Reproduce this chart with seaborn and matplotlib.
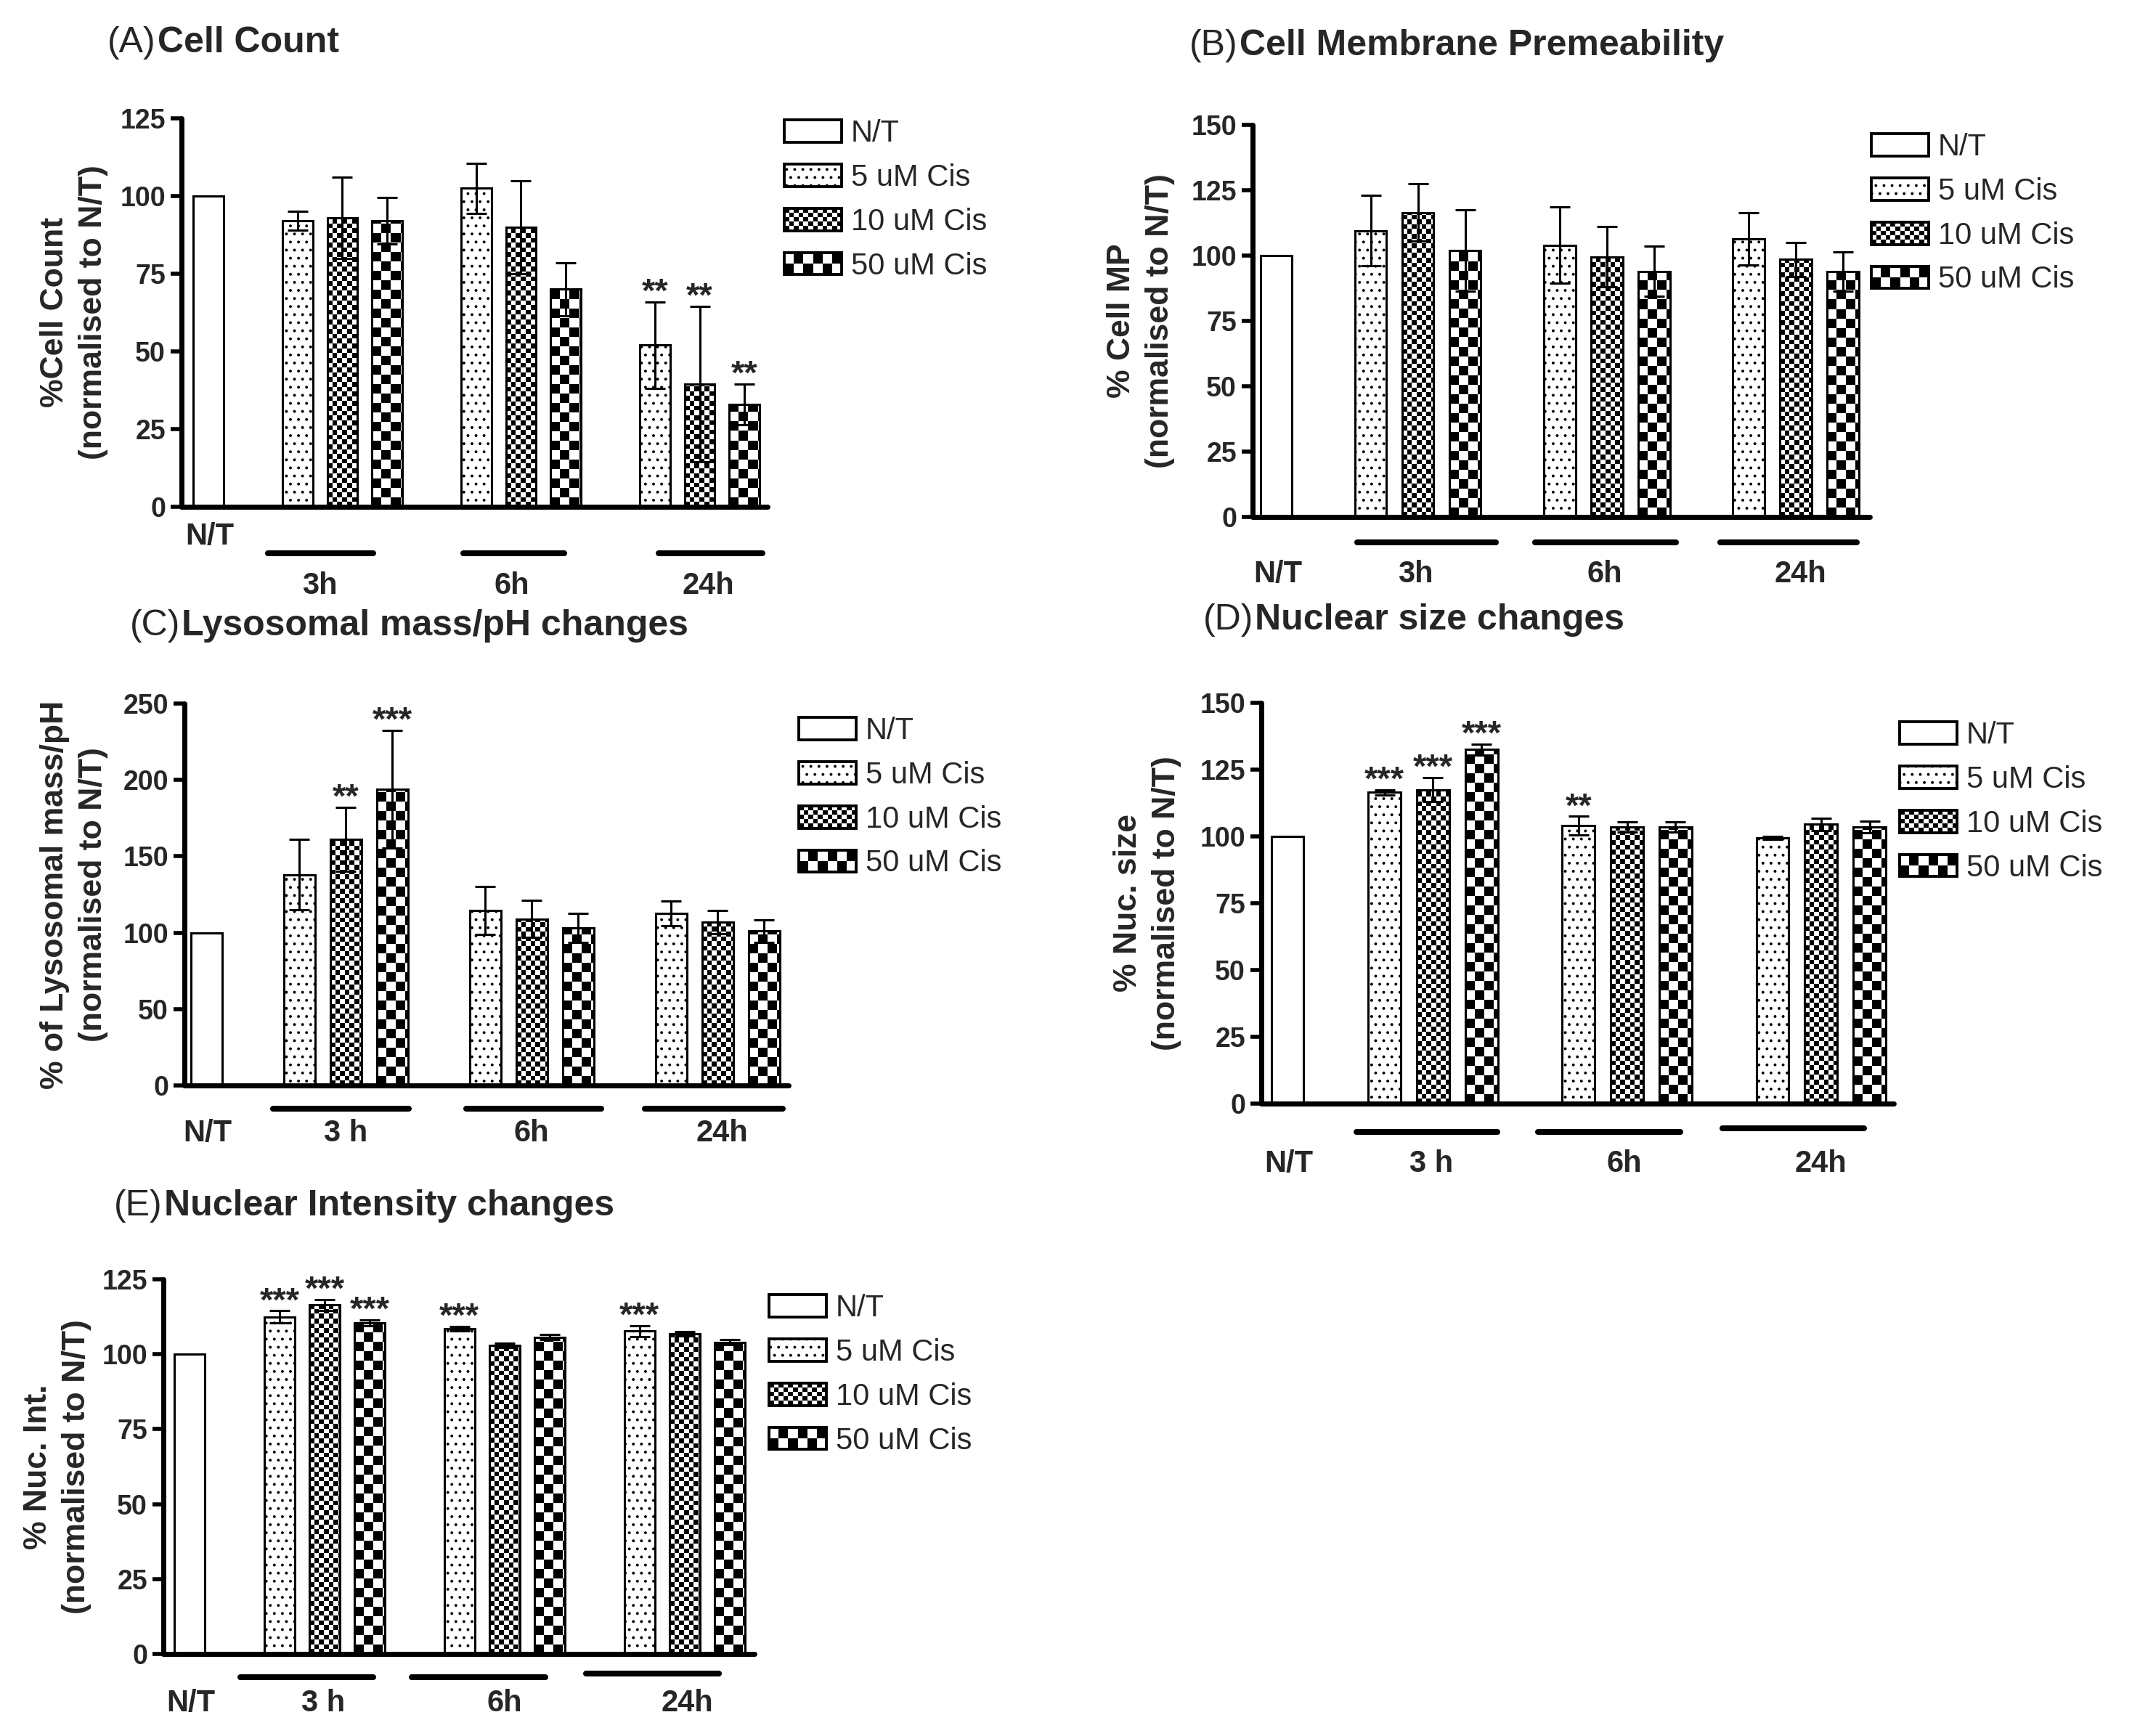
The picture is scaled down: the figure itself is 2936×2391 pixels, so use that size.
import numpy as np
import pandas as pd
import seaborn as sns
import matplotlib.pyplot as plt
from matplotlib.patches import Patch, Rectangle
from matplotlib.legend_handler import HandlerBase
from matplotlib.transforms import blended_transform_factory

W, H, DPI = 2936, 2391, 200

treatments = ["N/T", "5 uM Cis", "10 uM Cis", "50 uM Cis"]
# bar order in every panel: N/T, then 5/10/50 uM at 3h, 6h, 24h
bar_treat = ["N/T"] + ["5 uM Cis", "10 uM Cis", "50 uM Cis"] * 3
slots = [0, 2, 3, 4, 6, 7, 8, 10, 11, 12]

count_mean = [100, 92, 93, 92, 102.5, 90, 70, 52, 39.5, 33]
count_sem = [0, 3, 13, 7.5, 8, 15, 8.5, 14, 25, 6.5]
count_stars = ["", "", "", "", "", "", "", "**", "**", "**"]

mp_mean = [100, 109.5, 116.5, 102, 104, 99.5, 94, 106.5, 98.5, 94]
mp_sem = [0, 13.5, 11, 15.5, 14.5, 11.5, 9.5, 10, 6.5, 7.5]
mp_stars = [""] * 10

lyso_mean = [100, 138, 161, 194, 114.5, 109, 103, 112.5, 107, 101]
lyso_sem = [0, 23, 21, 38.5, 15.5, 12, 9.5, 8, 7.5, 7.5]
lyso_stars = ["", "", "**", "***", "", "", "", "", "", ""]

size_mean = [100, 116.5, 117.5, 132.5, 104, 103.5, 103.5, 99.5, 104.5, 103.5]
size_sem = [0, 1, 4.5, 2, 3.5, 2, 2, 0.5, 2.2, 2.2]
size_stars = ["", "***", "***", "***", "**", "", "", "", "", ""]

int_mean = [100, 112.5, 116.5, 110.5, 108.5, 103, 105.7, 107.7, 106.8, 104]
int_sem = [0, 2, 1.8, 1, 0.8, 0.7, 0.8, 1.8, 0.8, 0.8]
int_stars = ["", "***", "***", "***", "***", "", "", "***", "", ""]

panels = [
    dict(tag="(A)", title="Cell Count", ylabel="%Cell Count\n(normalised to N/T)",
         mean=count_mean, sem=count_sem, stars=count_stars, groups=["3h", "6h", "24h"],
         box=(250, 163, 1057, 698), xlim=(-0.6, 12.52), ymax=125, step=25,
         title_xy=(148, 72), ylab_xy=(102, 430), leg_xy=(1080, 164),
         nt_y=739, grp_y=807, grp_x=[2.5, 6.8, 11.2],
         lines=[(1.33, 3.69, 762), (5.7, 7.97, 762), (10.08, 12.4, 762)]),
    dict(tag="(B)", title="Cell Membrane Premeability", ylabel="% Cell MP\n(normalised to N/T)",
         mean=mp_mean, sem=mp_sem, stars=mp_stars, groups=["3h", "6h", "24h"],
         box=(1725, 172, 2575, 712), xlim=(-0.5, 12.57), ymax=150, step=25,
         title_xy=(1638, 76), ylab_xy=(1571, 442), leg_xy=(2577, 183),
         nt_y=791, grp_y=791, grp_x=[2.95, 6.95, 11.1],
         lines=[(1.71, 4.65, 747), (5.48, 8.46, 747), (9.4, 12.3, 747)]),
    dict(tag="(C)", title="Lysosomal mass/pH changes",
         ylabel="% of Lysosomal mass/pH\n(normalised to N/T)",
         mean=lyso_mean, sem=lyso_sem, stars=lyso_stars, groups=["3 h", "6h", "24h"],
         box=(254, 969, 1086, 1495), xlim=(-0.47, 12.53), ymax=250, step=50,
         title_xy=(179, 875), ylab_xy=(102, 1232), leg_xy=(1100, 987),
         nt_y=1561, grp_y=1561, grp_x=[3.0, 7.0, 11.1],
         lines=[(1.44, 4.36, 1527), (5.6, 8.5, 1527), (9.44, 12.4, 1527)]),
    dict(tag="(D)", title="Nuclear size changes", ylabel="% Nuc. size\n(normalised to N/T)",
         mean=size_mean, sem=size_sem, stars=size_stars, groups=["3 h", "6h", "24h"],
         box=(1737, 968, 2608, 1520), xlim=(-0.54, 12.5), ymax=150, step=25,
         title_xy=(1657, 867), ylab_xy=(1580, 1244), leg_xy=(2616, 993),
         nt_y=1603, grp_y=1603, grp_x=[2.96, 6.94, 11.0],
         lines=[(1.42, 4.33, 1559), (5.16, 8.1, 1559), (8.97, 11.88, 1554)]),
    dict(tag="(E)", title="Nuclear Intensity changes", ylabel="% Nuc. Int.\n(normalised to N/T)",
         mean=int_mean, sem=int_sem, stars=int_stars, groups=["3 h", "6h", "24h"],
         box=(225, 1762, 1039, 2278), xlim=(-0.58, 12.55), ymax=125, step=25,
         title_xy=(157, 1674), ylab_xy=(79, 2020), leg_xy=(1059, 1782),
         nt_y=2346, grp_y=2346, grp_x=[2.97, 7.0, 11.05],
         lines=[(1.13, 4.08, 2310), (4.94, 7.9, 2310), (8.8, 11.76, 2305)]),
]

CELL = {"10 uM Cis": 6.6, "50 uM Cis": 13.0}


class CheckerHandler(HandlerBase):
    def __init__(self, nx, ny):
        super().__init__()
        self.nx, self.ny = nx, ny

    def create_artists(self, legend, orig_handle, xdescent, ydescent,
                       width, height, fontsize, trans):
        x0, y0 = -xdescent, -ydescent
        cw, ch = width / self.nx, height / self.ny
        arts = [Rectangle((x0, y0), width, height, fc="white", ec="none", transform=trans)]
        for i in range(self.ny):
            for j in range(self.nx):
                if (i + j) % 2 == 0:
                    arts.append(Rectangle((x0 + j * cw, y0 + i * ch), cw, ch,
                                          fc="black", ec="none", transform=trans))
        arts.append(Rectangle((x0, y0), width, height, fc="none", ec="black",
                              lw=1.4, transform=trans))
        return arts


def checker_fill(ax, bar, cell_px, px_x, px_y):
    x0, w, h = bar.get_x(), bar.get_width(), bar.get_height()
    dx, dy = cell_px / px_x, cell_px / px_y
    nx, ny = int(np.ceil(w / dx)), int(np.ceil(h / dy))
    grid = np.indices((ny, nx)).sum(axis=0) % 2
    im = ax.imshow(grid, cmap="gray", vmin=0, vmax=1, origin="lower",
                   extent=(x0, x0 + nx * dx, 0, ny * dy), interpolation="nearest",
                   aspect="auto", zorder=bar.get_zorder() - 0.05)
    im.set_clip_path(bar)
    bar.set_facecolor("none")


sns.set_style("white")
plt.rcParams["font.family"] = ["Liberation Sans", "DejaVu Sans"]
plt.rcParams["hatch.linewidth"] = 0.6

fig = plt.figure(figsize=(W / DPI, H / DPI), dpi=DPI)
renderer = fig.canvas.get_renderer()

for p in panels:
    x0, y0, x1, y1 = p["box"]
    ax = fig.add_axes([x0 / W, 1 - y1 / H, (x1 - x0) / W, (y1 - y0) / H])
    df = pd.DataFrame({"slot": slots, "value": p["mean"], "treatment": bar_treat})
    sns.barplot(data=df, x="slot", y="value", hue="treatment", hue_order=treatments,
                native_scale=True, dodge=False, width=0.67, errorbar=None,
                palette=dict.fromkeys(treatments, "white"), saturation=1,
                edgecolor="black", linewidth=1.1, legend=False, ax=ax)
    ax.set_xlim(*p["xlim"])
    ax.set_ylim(0, p["ymax"])
    px_x = (x1 - x0) / (p["xlim"][1] - p["xlim"][0])
    px_y = (y1 - y0) / p["ymax"]

    for cont, treat in zip(ax.containers, treatments):
        for bar in cont:
            if treat == "5 uM Cis":
                bar.set_hatch("...")
            elif treat in CELL:
                checker_fill(ax, bar, CELL[treat], px_x, px_y)

    mean = np.array(p["mean"], dtype=float)
    sem = np.array(p["sem"], dtype=float)
    xs = np.array(slots, dtype=float)
    m = sem > 0
    ax.errorbar(xs[m], mean[m], yerr=sem[m], fmt="none", ecolor="black",
                elinewidth=1.1, capsize=5, capthick=1.1, zorder=3)
    for x, top, s in zip(xs, mean + sem, p["stars"]):
        if s:
            ax.text(x, top, s, ha="center", va="baseline", fontsize=17,
                    fontweight="bold", zorder=4)

    ax.set_xlim(*p["xlim"])
    ax.set_ylim(0, p["ymax"])
    ticks = np.arange(0, p["ymax"] + 1, p["step"])
    ax.set_yticks(ticks)
    ax.set_yticklabels([str(int(t)) for t in ticks], fontweight="bold")
    ax.set_xticks([])
    ax.set_xlabel("")
    ax.set_ylabel("")
    ax.tick_params(axis="y", direction="out", length=5.4, width=2.0, pad=2.5,
                   labelsize=13.5, color="black", left=True)
    for side in ["top", "right"]:
        ax.spines[side].set_visible(False)
    for side in ["left", "bottom"]:
        ax.spines[side].set_linewidth(2.5)
        ax.spines[side].set_color("black")
        ax.spines[side].set_capstyle("round")

    # group bars and labels under the axis
    tr = blended_transform_factory(ax.transData, fig.transFigure)
    for (a, b, ly) in p["lines"]:
        ax.plot([a, b], [1 - ly / H] * 2, color="black", lw=2.9,
                solid_capstyle="round", transform=tr, clip_on=False)
    ax.text(0.03, 1 - p["nt_y"] / H, "N/T", transform=tr, ha="center", va="center",
            fontsize=15, fontweight="bold")
    for gx, g in zip(p["grp_x"], p["groups"]):
        ax.text(gx, 1 - p["grp_y"] / H, g, transform=tr, ha="center", va="center",
                fontsize=15, fontweight="bold")

    # y label
    lx, ly = p["ylab_xy"]
    fig.text(lx / W, 1 - ly / H, p["ylabel"], rotation=90, ha="center", va="center",
             multialignment="center", fontsize=16, fontweight="bold", linespacing=1.4)

    # title: regular tag followed by bold name
    tx, ty = p["title_xy"]
    t = fig.text(tx / W, 1 - ty / H, p["tag"], fontsize=18, va="baseline")
    bb = t.get_window_extent(renderer)
    fig.text((bb.x1 + 2) / W, 1 - ty / H, p["title"], fontsize=18,
             fontweight="bold", va="baseline")

    # legend
    h_nt = Patch(facecolor="white", edgecolor="black", lw=1.4, label=treatments[0])
    h5 = Patch(facecolor="white", edgecolor="black", lw=1.4, hatch="...", label=treatments[1])
    h10 = Patch(facecolor="white", edgecolor="black", label=treatments[2])
    h50 = Patch(facecolor="white", edgecolor="black", label=treatments[3])
    gx_, gy_ = p["leg_xy"]
    ax.legend(handles=[h_nt, h5, h10, h50], loc="upper left",
              bbox_to_anchor=(gx_ / W, 1 - gy_ / H), bbox_transform=fig.transFigure,
              frameon=False, fontsize=15, borderpad=0, borderaxespad=0,
              handlelength=1.9, handleheight=0.76, handletextpad=0.3,
              labelspacing=0.5,
              handler_map={h10: CheckerHandler(12, 5), h50: CheckerHandler(6, 2)})

fig.savefig("out.png", dpi=DPI)
